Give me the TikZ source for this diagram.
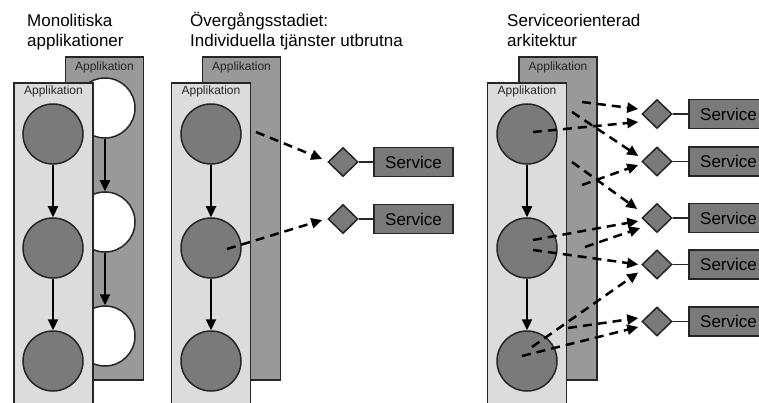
\documentclass[tikz,border=0pt]{standalone}
\usepackage{fontspec}
\setmainfont{Liberation Sans}
\usetikzlibrary{arrows.meta,shapes.geometric}
\definecolor{appfill}{HTML}{DCDCDC}
\definecolor{backfill}{HTML}{999999}
\definecolor{compfill}{HTML}{7A7A7A}
\definecolor{edgecol}{HTML}{262626}

\begin{document}
\begin{tikzpicture}[x=1pt,y=1pt,
    appback/.style={draw=edgecol,line width=1.6pt,fill=backfill,minimum width=78pt,minimum height=323pt},
    appfront/.style={draw=edgecol,line width=1.6pt,fill=appfill,minimum width=79pt,minimum height=330pt},
    applbl/.style={font=\fontsize{12}{14}\selectfont,text=black!85},
    comp/.style={circle,draw=edgecol,line width=1.5pt,fill=compfill,minimum size=60pt},
    oldcomp/.style={comp,fill=white},
    port/.style={diamond,draw=edgecol,line width=1.5pt,fill=compfill,minimum width=30pt,minimum height=29pt},
    svc/.style={draw=edgecol,line width=1.5pt,fill=compfill,minimum width=79pt,minimum height=29pt,font=\fontsize{17}{20}\selectfont},
    heading/.style={anchor=base west,font=\fontsize{17}{20}\selectfont},
    flow/.style={line width=2.3pt,-{Triangle[length=11pt,width=10pt]}},
    call/.style={line width=2.5pt,dash pattern=on 9pt off 6pt,-{Triangle[length=11pt,width=10pt]}},
    link/.style={draw=edgecol,line width=1.2pt}]
    \tikzstyle{every node}+=[inner sep=0pt]
    \useasboundingbox (0,0) rectangle (759,-403);
    \clip (0,0) rectangle (759,-403);
    \fill[white] (0,0) rectangle (759,-403);

    \node[heading] (t1a) at (27,-27) {Monolitiska};
    \node[heading] (t1b) at (27,-47) {applikationer};
    \node[heading] (t2a) at (190,-27) {Övergångsstadiet:};
    \node[heading] (t2b) at (190,-47) {Individuella tjänster utbrutna};
    \node[heading] (t3a) at (507,-27) {Serviceorienterad};
    \node[heading] (t3b) at (507,-47) {arkitektur};

    \node[appback] (lb) at (104.5,-218.5) {};
    \node[applbl] (lbl) at (104.5,-67) {Applikation};
    \node[oldcomp] (lb1) at (105,-108) {};
    \node[oldcomp] (lb2) at (105,-222) {};
    \node[oldcomp] (lb3) at (105,-336) {};
    \draw[flow] (lb1) -- (lb2);
    \draw[flow] (lb2) -- (lb3);
    \node[appfront] (lf) at (53.5,-248) {};
    \node[applbl] (lfl) at (53.5,-91.5) {Applikation};
    \node[comp] (lc1) at (53,-134) {};
    \node[comp] (lc2) at (53,-248) {};
    \node[comp] (lc3) at (53,-361) {};
    \draw[flow] (lc1) -- (lc2);
    \draw[flow] (lc2) -- (lc3);

    \node[appback] (mb) at (241.5,-218.5) {};
    \node[applbl] (mbl) at (241.5,-67) {Applikation};
    \node[appfront] (mf) at (211,-248) {};
    \node[applbl] (mfl) at (211,-91.5) {Applikation};
    \node[comp] (mc1) at (211,-134) {};
    \node[comp] (mc2) at (211,-248) {};
    \node[comp] (mc3) at (211,-361) {};
    \draw[flow] (mc1) -- (mc2);
    \draw[flow] (mc2) -- (mc3);
    \node[port] (mp1) at (343,-162) {};
    \node[port] (mp2) at (343,-219) {};
    \node[svc] (ms1) at (413.5,-162) {Service};
    \node[svc] (ms2) at (413.5,-219) {Service};
    \draw[link] (mp1.east) -- (ms1.west);
    \draw[link] (mp2.east) -- (ms2.west);
    \coordinate (mh1) at (256,-132);
    \draw[call] (mh1) -- ([shift={(-5,3)}]mp1.west);
    \draw[call] ([shift={(16,-1)}]mc2.center) -- ([shift={(-5,-1)}]mp2.west);

    \node[appback] (rb) at (558,-218.5) {};
    \node[applbl] (rbl) at (558,-67) {Applikation};
    \node[appfront] (rf) at (527,-248) {};
    \node[applbl] (rfl) at (527,-91.5) {Applikation};
    \node[comp] (rc1) at (527,-134) {};
    \node[comp] (rc2) at (527,-248) {};
    \node[comp] (rc3) at (527,-361) {};
    \draw[flow] (rc1) -- (rc2);
    \draw[flow] (rc2) -- (rc3);
    \foreach \i/\y in {1/114,2/161.5,3/218,4/264.5,5/321.5} {
        \node[port] (rp\i) at (657,-\y) {};
        \node[svc] (rs\i) at (728.5,-\y) {Service};
        \draw[link] (rp\i.east) -- (rs\i.west);
    }
    \coordinate (rh1) at (582,-102);
    \coordinate (rh2) at (572,-112);
    \coordinate (rh3) at (582,-185);
    \coordinate (rh4) at (572,-162);
    \coordinate (rh5) at (585,-247);
    \coordinate (rh6) at (568,-328);
    \draw[call] (rh1) -- ([shift={(-3,5)}]rp1.west);
    \draw[call] ([shift={(6,2)}]rc1.center) -- ([shift={(-3,-8)}]rp1.west);
    \draw[call] (rh2) -- ([shift={(-3,5.5)}]rp2.west);
    \draw[call] (rh3) -- ([shift={(-3,-3.5)}]rp2.west);
    \draw[call] (rh4) -- ([shift={(-4,9)}]rp3.west);
    \draw[call] ([shift={(6,8)}]rc2.center) -- ([shift={(-3,-3)}]rp3.west);
    \draw[call] (rh5) -- ([shift={(-1,-10)}]rp3.west);
    \draw[call] ([shift={(6,-2)}]rc2.center) -- ([shift={(-3,0)}]rp4.west);
    \draw[call] ([shift={(5,14)}]rc3.center) -- ([shift={(-3,-8)}]rp4.west);
    \draw[call] (rh6) -- ([shift={(-3,3.5)}]rp5.west);
    \draw[call] ([shift={(-5,5)}]rc3.center) -- ([shift={(-3,-5.5)}]rp5.west);
\end{tikzpicture}
\end{document}
